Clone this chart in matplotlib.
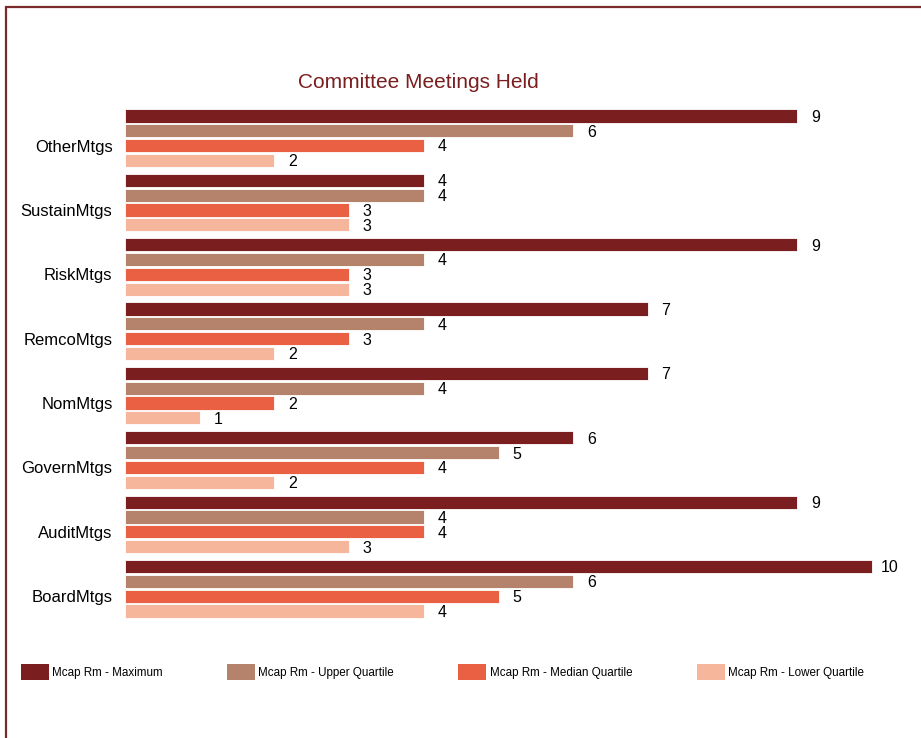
import matplotlib
matplotlib.use('Agg')
import matplotlib.pyplot as plt
from matplotlib.patches import Patch, Rectangle

plt.rcParams['font.family'] = ['Liberation Sans', 'DejaVu Sans']

committees = ['OtherMtgs', 'SustainMtgs', 'RiskMtgs', 'RemcoMtgs',
              'NomMtgs', 'GovernMtgs', 'AuditMtgs', 'BoardMtgs']

maximum = [9, 4, 9, 7, 7, 6, 9, 10]
upper_quartile = [6, 4, 4, 4, 4, 5, 4, 6]
median_quartile = [4, 3, 3, 3, 2, 4, 4, 5]
lower_quartile = [2, 3, 3, 2, 1, 2, 3, 4]

series_names = ['Mcap Rm - Maximum', 'Mcap Rm - Upper Quartile',
                'Mcap Rm - Median Quartile', 'Mcap Rm - Lower Quartile']
series_colors = ['#7a1e1f', '#b5836c', '#e96142', '#f6b69b']
series_values = [maximum, upper_quartile, median_quartile, lower_quartile]

W, H = 921, 738
fig = plt.figure(figsize=(W / 100, H / 100), dpi=100)
ax = fig.add_axes([125 / W, 1 - 630 / H, 775 / W, 530 / H])

step = 0.23
bar_h = 0.205
for j, (name, color, vals) in enumerate(zip(series_names, series_colors, series_values)):
    ys = [k + (j - 1.5) * step for k in range(len(committees))]
    bars = ax.barh(ys, vals, height=bar_h, color=color, edgecolor='white',
                   linewidth=0.6, label=name)
    for b, v in zip(bars, vals):
        ax.annotate(str(v), (b.get_width(), b.get_y() + b.get_height() / 2),
                    xytext=(13, -1), textcoords='offset points',
                    ha='center', va='center', fontsize=11.5, color='black')

ax.set_xlim(0, 775 / 74.7)
ax.set_ylim(7.64, -0.593)
ax.set_yticks([k + 0.5 * step for k in range(len(committees))])
ax.set_yticklabels(committees, fontsize=12)
ax.tick_params(axis='y', length=0, pad=9)
ax.set_xticks([])
for s in ax.spines.values():
    s.set_visible(False)

fig.text(418 / W, 1 - 83 / H, 'Committee Meetings Held', ha='center', va='center',
         fontsize=15, color='#7a1e1f')

handles = [Patch(facecolor=c, edgecolor='none') for c in series_colors]
fig.legend(handles, series_names, loc='center left',
           bbox_to_anchor=(16 / W, 1 - 672 / H), ncol=4, frameon=False,
           fontsize=8.4, handlelength=2.4, handleheight=1.7,
           handletextpad=0.3, columnspacing=5.5, borderaxespad=0)

# frame line along the top and left edge
fig.patches.append(Rectangle((6 / W, -0.2), 1.3, 1.2 - 7 / H, transform=fig.transFigure,
                             fill=False, edgecolor='#7a2a2a', linewidth=1.6))

fig.savefig('out.png', dpi=100)
